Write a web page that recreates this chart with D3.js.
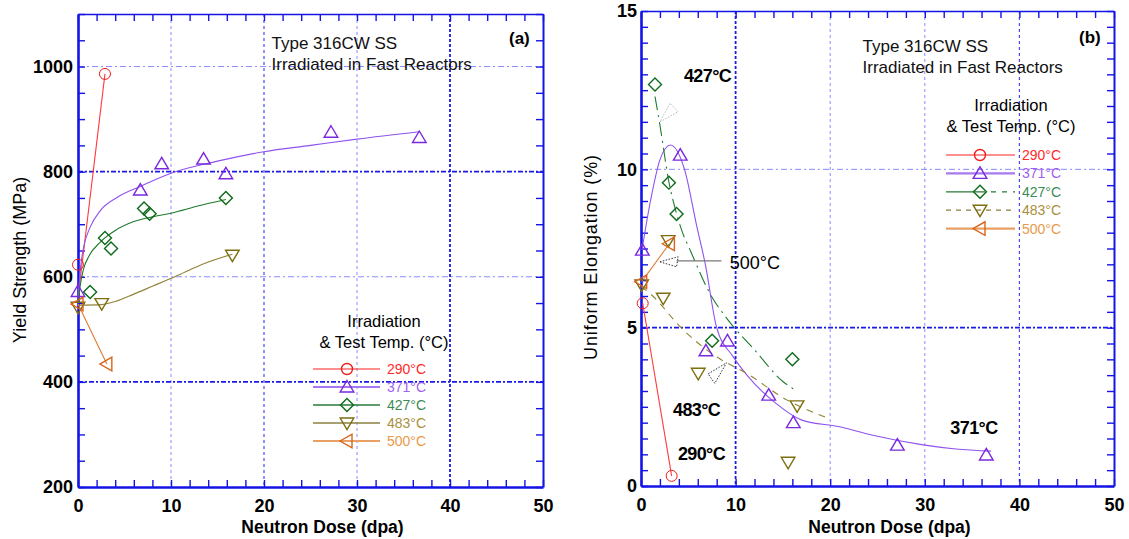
<!DOCTYPE html>
<html><head><meta charset="utf-8">
<script src="https://cdn.jsdelivr.net/npm/d3@7"></script>
<style>
body{margin:0;background:#fff;}
svg{display:block;font-family:"Liberation Sans",Arial,Helvetica,sans-serif;}
</style></head><body>
<svg id="c" width="1129" height="539"></svg>
<script>
// ---------------- DATA ----------------
const doseTicks = [0, 10, 20, 30, 40, 50];
const ysTicks = [200, 400, 600, 800, 1000];
const ueTicks = [0, 5, 10, 15];
const tempLabels = ["290°C", "371°C", "427°C", "483°C", "500°C"];

// Panel (a) Yield strength (MPa) vs dose (dpa)
const ys290 = [[0, 623], [2.9, 986]];
const ys290Fit = [[0, 560], [2.9, 986]];
const ys371 = [[0, 572], [6.7, 765], [9.0, 815], [13.5, 824], [15.9, 796], [27.2, 875], [36.7, 865]];
const ys371Fit = [[0, 560], [0.3, 622], [0.6, 656], [1.3, 694], [2.4, 726], [4.2, 751], [6.7, 772], [10, 797], [15, 820], [20, 838], [25, 850], [30, 862], [36.7, 876]];
const ys427 = [[1.3, 571], [2.9, 674], [3.55, 654], [7.1, 730], [7.7, 720], [15.9, 750]];
const ys427Fit = [[0, 550], [0.3, 590], [0.6, 615], [1.2, 640], [2.4, 666], [4, 688], [6, 705], [8, 714], [10, 721], [13, 735], [15.9, 747]];
const ys483 = [[0, 542], [2.55, 549], [16.6, 641]];
const ys483Fit = [[0, 546], [2.55, 547], [4, 553], [6, 567], [8, 582], [10, 597], [12, 613], [14, 628], [16.6, 643]];
const ys500 = [[0, 548], [3.1, 434]];
const ys500Fit = [[0, 548], [3.1, 434]];

// Panel (b) Uniform elongation (%) vs dose (dpa)
const ue290 = [[0.18, 5.77], [3.24, 0.32]];
const ue290Fit = [[0.18, 5.77], [3.24, 0.32]];
const ue371 = [[0.14, 7.45], [4.15, 10.45], [6.86, 4.27], [9.14, 4.58], [13.5, 2.87], [16.1, 2.0], [27.1, 1.29], [36.5, 0.98]];
const ue371Fit = [[0.1, 7.45], [1, 9.0], [2, 10.3], [3.1, 10.77], [4.6, 10.0], [5.9, 8.2], [6.8, 7.0], [8, 5.0], [9.7, 4.1], [11.2, 3.5], [14.3, 2.6], [17, 2.08], [21, 1.87], [24.5, 1.6], [29.8, 1.3], [33.3, 1.17], [37, 1.1]];
const ue427 = [[1.48, 12.68], [2.95, 9.58], [3.76, 8.59], [7.52, 4.59], [16.0, 4.0]];
const ue427Fit = [[1.48, 12.3], [2.0, 11.4], [2.95, 9.6], [3.76, 8.6], [4.3, 8.08], [5.34, 7.35], [7.28, 6.08], [9.21, 5.24], [12, 4.3], [15, 3.3], [16.5, 3.0]];
const ue483 = [[0.07, 6.35], [2.35, 5.93], [2.88, 7.75], [6.05, 3.56], [16.5, 2.53], [15.55, 0.75]];
const ue483Fit = [[0, 6.3], [0.95, 6.08], [4.46, 4.93], [7.98, 4.08], [11.15, 3.56], [15.4, 2.72], [19.8, 2.14]];
const ue500 = [[0.07, 6.45], [3.0, 7.65]];
const ue500Fit = [[0.07, 6.45], [3.0, 7.65]];

// annotations in panel (b), data coordinates
const ueNotes = [
  {t: "427°C", at: [4.54, 12.77], bold: true},
  {t: "500°C", at: [9.39, 6.85], bold: false},
  {t: "483°C", at: [3.38, 2.21], bold: true},
  {t: "290°C", at: [3.9, 0.82], bold: true},
  {t: "371°C", at: [32.7, 1.64], bold: true}
];
const ueArrows = [
  {pts: [[3.06, 12.08], [2.0, 11.5], [3.93, 11.82]], c: "#b8b8b8"},
  {pts: [[2.0, 7.08], [3.93, 7.24], [3.76, 6.92]], c: "#333"},
  {pts: [[7.1, 3.54], [9.04, 3.89], [7.8, 3.24]], c: "#333"}
];
const ueLeader = [[3.76, 7.11], [8.51, 7.11]];

// ---------------- STYLE ----------------
const colors = ["#f01c1c", "#7a28e0", "#0d6a1a", "#7d6e10", "#d8641a"];
const lineColors = ["#ff3a3a", "#8f52ee", "#1f7a2c", "#8f8236", "#e07a30"];
const legTextColors = ["#ff2a2a", "#a060f0", "#3d8a55", "#a8903e", "#e89a4a"];
const markerPaths = {
  circle: "M5.5,0A5.5,5.5 0 1,1 -5.5,0A5.5,5.5 0 1,1 5.5,0Z",
  up: "M0,-6.5L6.8,5L-6.8,5Z",
  diamond: "M0,-6.5L6.5,0L0,6.5L-6.5,0Z",
  down: "M-6.8,-5L6.8,-5L0,6.5Z",
  left: "M-7,0L5,-6.8L5,6.8Z"
};
const markers = ["circle", "up", "diamond", "down", "left"];
const AX = "#1414e6";

const svg = d3.select("#c");

function panel(o) {
  const x = d3.scaleLinear().domain([0, 50]).range([o.x0, o.x1]);
  const y = d3.scaleLinear().domain(o.yDomain).range([o.yb, o.yt]);
  const g = svg.append("g");

  const gridStyle = {
    light: {c: "#8a8aff", w: 1, d: "3,3"},
    mid: {c: "#4a4af2", w: 1.2, d: "3,3"},
    dark: {c: "#1a1ae8", w: 1.8, d: "3,2"}
  };
  o.gridX.forEach(([v, s]) => {
    const st = gridStyle[s];
    g.append("line").attr("x1", x(v)).attr("x2", x(v)).attr("y1", o.yt).attr("y2", o.yb)
      .attr("stroke", st.c).attr("stroke-width", st.w).attr("stroke-dasharray", st.d);
  });
  o.gridY.forEach(([v, s]) => {
    const st = gridStyle[s];
    g.append("line").attr("x1", o.x0).attr("x2", o.x1).attr("y1", y(v)).attr("y2", y(v))
      .attr("stroke", st.c).attr("stroke-width", st.w)
      .attr("stroke-dasharray", s === "dark" ? "5,2,2,2" : "6,3,2,3");
  });

  // minor ticks (inward) on all four sides
  const xMinor = d3.range(0, 50.01, 2);
  const yMinor = d3.range(o.yDomain[0], o.yDomain[1] + 1e-6, o.yMinorStep);
  function styleAxis(sel, w) {
    sel.select(".domain").attr("stroke", AX).attr("stroke-width", w);
    sel.selectAll(".tick line").attr("stroke", AX).attr("stroke-width", 1.4);
  }
  const bottom = g.append("g").attr("transform", `translate(0,${o.yb})`)
    .call(d3.axisBottom(x).tickValues(xMinor).tickSize(-7).tickSizeOuter(0).tickFormat(""));
  styleAxis(bottom, 2.6);
  const top = g.append("g").attr("transform", `translate(0,${o.yt})`)
    .call(d3.axisTop(x).tickValues(xMinor).tickSize(-7).tickSizeOuter(0).tickFormat(""));
  styleAxis(top, 1.6);
  const left = g.append("g").attr("transform", `translate(${o.x0},0)`)
    .call(d3.axisLeft(y).tickValues(yMinor).tickSize(-7).tickSizeOuter(0).tickFormat(""));
  styleAxis(left, 2.6);
  const right = g.append("g").attr("transform", `translate(${o.x1},0)`)
    .call(d3.axisRight(y).tickValues(yMinor).tickSize(-7).tickSizeOuter(0).tickFormat(""));
  styleAxis(right, 2);

  // tick labels
  const xl = g.append("g").attr("transform", `translate(0,${o.yb})`)
    .call(d3.axisBottom(x).tickValues(doseTicks).tickSize(0).tickPadding(12).tickFormat(d3.format("d")));
  xl.select(".domain").remove();
  xl.selectAll("text").attr("font-size", 18).attr("font-weight", "bold").attr("fill", "#000")
    .attr("font-family", '"Liberation Sans",Arial,sans-serif');
  const yl = g.append("g").attr("transform", `translate(${o.x0},0)`)
    .call(d3.axisLeft(y).tickValues(o.yTicks).tickSize(0).tickPadding(o.yPad).tickFormat(d3.format("d")));
  yl.select(".domain").remove();
  yl.selectAll("text").attr("font-size", 18).attr("font-weight", "bold").attr("fill", "#000")
    .attr("font-family", '"Liberation Sans",Arial,sans-serif');

  // axis titles
  g.append("text").attr("x", (o.x0 + o.x1) / 2 + 12).attr("y", 533)
    .attr("text-anchor", "middle").attr("font-size", 17.5).attr("font-weight", "bold").text("Neutron Dose (dpa)");
  g.append("text").attr("transform", `translate(${o.ytX},${o.ytY}) rotate(-90)`)
    .attr("text-anchor", "middle").attr("font-size", 18).attr("letter-spacing", o.ytLS)
    .text(o.yTitle);

  // series
  const line = d3.line().x(d => x(d[0])).y(d => y(d[1])).curve(d3.curveMonotoneX);
  o.series.forEach((s, i) => {
    g.append("path").attr("d", line(s.fit)).attr("fill", "none")
      .attr("stroke", lineColors[i]).attr("stroke-width", 1.1)
      .attr("stroke-dasharray", s.dash || null);
  });
  o.series.forEach((s, i) => {
    g.append("g").selectAll("path").data(s.pts).join("path")
      .attr("transform", d => `translate(${x(d[0])},${y(d[1])})`)
      .attr("d", markerPaths[markers[i]]).attr("fill", "none")
      .attr("stroke", colors[i]).attr("stroke-width", i === 0 ? 1 : 1.4);
  });

  // header texts
  g.append("text").attr("x", o.hx).attr("y", o.hy).attr("font-size", 17).attr("fill", "#111").text("Type 316CW SS");
  g.append("text").attr("x", o.hx).attr("y", o.hy + 21).attr("font-size", 17).attr("fill", "#111").text("Irradiated in Fast Reactors");
  g.append("text").attr("x", o.tagX).attr("y", o.tagY).attr("font-size", 17).attr("font-weight", "bold").text(o.tag);

  // legend
  const L = o.legend;
  g.append("text").attr("x", L.cx).attr("y", L.ty).attr("text-anchor", "middle").attr("font-size", 16.5).text("Irradiation");
  g.append("text").attr("x", L.cx).attr("y", L.ty + 20.5).attr("text-anchor", "middle").attr("font-size", 16.5).text("& Test Temp. (°C)");
  const legW = [1, 2.2, 1.3, 1.3, 2.2];
  const legLine = ["#ff2020", "#a778f0", "#2a7a38", "#8c8040", "#e8a064"];
  tempLabels.forEach((t, i) => {
    const ry = L.y0 + i * L.dy;
    const dash = L.dashes[i];
    if (dash === "split") {
      g.append("line").attr("x1", L.x1).attr("x2", L.mx).attr("y1", ry).attr("y2", ry)
        .attr("stroke", legLine[i]).attr("stroke-width", legW[i]);
      g.append("line").attr("x1", L.mx).attr("x2", L.x2).attr("y1", ry).attr("y2", ry)
        .attr("stroke", legLine[i]).attr("stroke-width", legW[i]).attr("stroke-dasharray", "5,6");
    } else {
      g.append("line").attr("x1", L.x1).attr("x2", L.x2).attr("y1", ry).attr("y2", ry)
        .attr("stroke", legLine[i]).attr("stroke-width", legW[i]).attr("stroke-dasharray", dash || null);
    }
    g.append("path").attr("transform", `translate(${L.mx},${ry})`).attr("d", markerPaths[markers[i]])
      .attr("fill", "none").attr("stroke", colors[i]).attr("stroke-width", 1.4);
    g.append("text").attr("x", L.tx).attr("y", ry + 5).attr("font-size", 14).attr("fill", legTextColors[i]).text(t);
  });
  return {x, y, g};
}

panel({
  x0: 78, x1: 543, yt: 14, yb: 487, yDomain: [200, 1100], yTicks: ysTicks, yMinorStep: 50, yPad: 5,
  gridX: [[10, "light"], [20, "mid"], [30, "light"], [40, "dark"]],
  gridY: [[400, "dark"], [600, "light"], [800, "dark"], [1000, "light"]],
  yTitle: "Yield Strength (MPa)", ytX: 26, ytY: 260, ytLS: 0,
  series: [
    {pts: ys290, fit: ys290Fit}, {pts: ys371, fit: ys371Fit}, {pts: ys427, fit: ys427Fit},
    {pts: ys483, fit: ys483Fit}, {pts: ys500, fit: ys500Fit}
  ],
  hx: 271.5, hy: 49, tag: "(a)", tagX: 509, tagY: 44,
  legend: {cx: 384, ty: 327, y0: 369, dy: 18, x1: 313, x2: 380, mx: 347, tx: 387, dashes: [null, null, null, null, null]}
});

const b = panel({
  x0: 641, x1: 1114, yt: 11, yb: 486, yDomain: [0, 15], yTicks: ueTicks, yMinorStep: 0.5, yPad: 4,
  gridX: [[10, "dark"], [20, "light"], [30, "light"], [40, "mid"]],
  gridY: [[5, "dark"], [10, "light"]],
  yTitle: "Uniform Elongation (%)", ytX: 597, ytY: 257, ytLS: 0.9,
  series: [
    {pts: ue290, fit: ue290Fit}, {pts: ue371, fit: ue371Fit}, {pts: ue427, fit: ue427Fit, dash: "14,5,2,5"},
    {pts: ue483, fit: ue483Fit, dash: "7,6"}, {pts: ue500, fit: ue500Fit}
  ],
  hx: 862.5, hy: 51.5, tag: "(b)", tagX: 1079, tagY: 43,
  legend: {cx: 1011, ty: 111, y0: 155, dy: 18.4, x1: 946, x2: 1015, mx: 980, tx: 1022, dashes: [null, null, "split", "5,5", null]}
});

// panel (b) annotations
const ann = b.g.append("g");
ann.append("line").attr("x1", b.x(ueLeader[0][0])).attr("x2", b.x(ueLeader[1][0]))
  .attr("y1", b.y(ueLeader[0][1])).attr("y2", b.y(ueLeader[1][1]))
  .attr("stroke", "#777").attr("stroke-width", 1.2);
ueArrows.forEach(a => {
  ann.append("path").attr("d", d3.line().x(d => b.x(d[0])).y(d => b.y(d[1])).curve(d3.curveLinearClosed)(a.pts))
    .attr("fill", "none").attr("stroke", a.c).attr("stroke-width", 1).attr("stroke-dasharray", "1.5,1.5");
});
ueNotes.forEach(n => {
  ann.append("text").attr("x", b.x(n.at[0])).attr("y", b.y(n.at[1]))
    .attr("font-size", 18).attr("font-weight", n.bold ? "bold" : "normal").attr("letter-spacing", n.bold ? -0.6 : 0)
    .text(n.t);
});
</script>
</body></html>
